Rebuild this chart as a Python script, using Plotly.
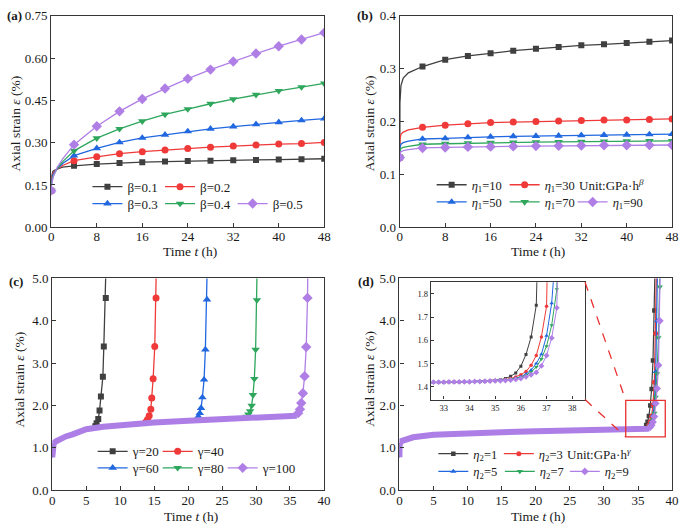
import plotly.graph_objects as go

W, H = 685, 531
FONT = "Liberation Serif, Times New Roman, Times, serif"
INK = "#1a1a1a"
AXC = "#363636"
RED_BOX = "#e8302f"
COLORS = ["#404040", "#f03a3a", "#2067e0", "#2ea65c", "#b07fe6"]
BAND = "#ad7fe6"
SYMBOLS = ["square", "circle", "triangle-up", "triangle-down", "diamond"]
MSIZE = [6, 7, 7.5, 7.5, 8]
MSIZE_D = [4.5, 5, 5.5, 5.5, 6]
MSIZE_IN = [3, 3.5, 4, 4, 4.5]

# ---------------- (a) beta ----------------
A_LABELS = ["β=0.1", "β=0.2", "β=0.3", "β=0.4", "β=0.5"]
A_T = [0, 4, 8, 12, 16, 20, 24, 28, 32, 36, 40, 44, 48]
A_B01 = [0.13, 0.218, 0.224, 0.228, 0.231, 0.233, 0.235, 0.236, 0.238, 0.239, 0.240, 0.241, 0.243]
A_B02 = [0.13, 0.236, 0.250, 0.261, 0.268, 0.274, 0.279, 0.284, 0.288, 0.292, 0.295, 0.297, 0.301]
A_B03 = [0.13, 0.254, 0.280, 0.301, 0.317, 0.328, 0.340, 0.349, 0.357, 0.365, 0.372, 0.379, 0.385]
A_B04 = [0.13, 0.271, 0.316, 0.349, 0.376, 0.400, 0.419, 0.438, 0.454, 0.470, 0.484, 0.497, 0.510]
A_B05 = [0.13, 0.293, 0.358, 0.411, 0.455, 0.492, 0.527, 0.559, 0.588, 0.616, 0.642, 0.666, 0.690]
A_EARLY_T = [0.02, 0.3, 1, 2]
A_EARLY_B01 = [0.180, 0.199, 0.206, 0.213]
A_EARLY_B02 = [0.168, 0.192, 0.206, 0.219]
A_EARLY_B03 = [0.158, 0.186, 0.207, 0.226]
A_EARLY_B04 = [0.150, 0.180, 0.208, 0.233]
A_EARLY_B05 = [0.145, 0.176, 0.211, 0.243]

# ---------------- (b) eta1 ----------------
B_LABELS = ["<i>η</i><sub>1</sub>=10", "<i>η</i><sub>1</sub>=30", "<i>η</i><sub>1</sub>=50",
            "<i>η</i><sub>1</sub>=70", "<i>η</i><sub>1</sub>=90"]
B_T = [0, 4, 8, 12, 16, 20, 24, 28, 32, 36, 40, 44, 48]
B_E10 = [0.132, 0.304, 0.317, 0.324, 0.329, 0.334, 0.3375, 0.341, 0.344, 0.346, 0.3485, 0.351, 0.353]
B_E30 = [0.132, 0.189, 0.193, 0.196, 0.198, 0.199, 0.200, 0.201, 0.202, 0.203, 0.203, 0.204, 0.205]
B_E50 = [0.132, 0.167, 0.168, 0.170, 0.171, 0.172, 0.1725, 0.173, 0.174, 0.1745, 0.175, 0.1755, 0.176]
B_E70 = [0.132, 0.157, 0.158, 0.159, 0.160, 0.1605, 0.161, 0.1615, 0.162, 0.1625, 0.163, 0.1632, 0.1636]
B_E90 = [0.132, 0.150, 0.151, 0.152, 0.1525, 0.153, 0.1535, 0.154, 0.1545, 0.155, 0.1552, 0.1554, 0.1556]
B_EARLY_T = [0.02, 0.2, 0.6, 1.5]
B_EARLY_E10 = [0.235, 0.268, 0.282, 0.292]
B_EARLY_E30 = [0.166, 0.176, 0.180, 0.184]
B_EARLY_E50 = [0.151, 0.157, 0.160, 0.163]
B_EARLY_E70 = [0.144, 0.149, 0.151, 0.153]
B_EARLY_E90 = [0.139, 0.143, 0.145, 0.147]

# ---------------- (c) gamma ----------------
C_LABELS = ["γ=20", "γ=40", "γ=60", "γ=80", "γ=100"]
C_BASE_T = [0, 0.02, 0.2, 0.5, 1, 2, 3, 5, 7.5, 10, 15, 20, 25, 30, 35, 36.0]
C_BASE_Y = [0.78, 1.05, 1.10, 1.15, 1.20, 1.27, 1.32, 1.44, 1.50, 1.54, 1.60, 1.64, 1.67, 1.70, 1.73, 1.76]
C_G20_T = [6.34, 6.53, 6.77, 6.96, 7.16, 7.45, 7.59, 7.88, 7.96]
C_G20_Y = [1.51, 1.58, 1.68, 1.88, 2.21, 2.68, 3.39, 4.54, 5.6]
C_G40_T = [13.78, 14.03, 14.27, 14.51, 14.65, 14.85, 15.09, 15.28, 15.36]
C_G40_Y = [1.61, 1.67, 1.76, 1.91, 2.18, 2.63, 3.39, 4.54, 5.6]
C_G60_T = [21.30, 21.52, 21.72, 21.91, 22.10, 22.35, 22.54, 22.78, 22.86]
C_G60_Y = [1.69, 1.74, 1.82, 1.94, 2.19, 2.61, 3.32, 4.50, 5.6]
C_G80_T = [28.62, 28.88, 29.12, 29.36, 29.55, 29.75, 29.94, 30.13, 30.20]
C_G80_Y = [1.74, 1.79, 1.87, 2.00, 2.25, 2.63, 3.32, 4.49, 5.6]
C_G100_T = [36.20, 36.47, 36.66, 36.90, 37.15, 37.39, 37.58, 37.66]
C_G100_Y = [1.82, 1.91, 2.06, 2.29, 2.69, 3.38, 4.54, 5.6]

# ---------------- (d) eta2 ----------------
D_LABELS = ["<i>η</i><sub>2</sub>=1", "<i>η</i><sub>2</sub>=3", "<i>η</i><sub>2</sub>=5",
            "<i>η</i><sub>2</sub>=7", "<i>η</i><sub>2</sub>=9"]
D_BASE_T = [0, 0.02, 0.3, 1, 2, 5, 10, 15, 20, 25, 30]
D_BASE_Y = [0.78, 1.08, 1.16, 1.21, 1.25, 1.31, 1.35, 1.37, 1.39, 1.40, 1.41]
D_PLAT_T = [32.6, 32.8, 33.0, 33.2, 33.4, 33.6, 33.8, 34.0, 34.2, 34.4, 34.6, 34.8, 35.0]
D_PLAT_Y = [1.420, 1.420, 1.420, 1.421, 1.421, 1.421, 1.422, 1.422, 1.423, 1.423, 1.424, 1.425, 1.426]
D_TAIL_T = [35.2, 35.4, 35.6, 35.8, 36.0, 36.2, 36.4, 36.6, 36.8, 37.0, 37.2, 37.4, 37.6, 37.8, 38.0, 38.2, 38.4]
D_E1 = [1.430, 1.436, 1.445, 1.460, 1.489, 1.539, 1.615, 1.751, 2.00, 2.39, 3.06, 4.24, 6.0]
D_E3 = [1.428, 1.431, 1.435, 1.442, 1.452, 1.466, 1.493, 1.535, 1.615, 1.747, 2.02, 2.55, 3.70, 6.0]
D_E5 = [1.427, 1.429, 1.432, 1.437, 1.443, 1.455, 1.472, 1.500, 1.540, 1.620, 1.760, 2.05, 2.80, 4.00, 6.5]
D_E7 = [1.427, 1.428, 1.431, 1.435, 1.440, 1.450, 1.464, 1.485, 1.520, 1.575, 1.665, 1.82, 2.20, 2.75, 3.60, 4.80, 6.5]
D_E9 = [1.426, 1.427, 1.429, 1.432, 1.436, 1.443, 1.452, 1.462, 1.490, 1.535, 1.610, 1.740, 2.05, 2.40, 2.95, 4.00, 6.5]


def px(x):
    return x / W


def py(y):
    return 1 - y / H


# panel geometry (pixels of the 685x531 canvas)
A_XDOM, A_YDOM = [px(49), px(326)], [py(226.7), py(9)]
B_XDOM, B_YDOM = [px(402.7), px(679)], [py(226.7), py(9)]
C_XDOM, C_YDOM = [px(50), px(325.7)], [py(497.3), py(279.3)]
D_XDOM, D_YDOM = [px(402.3), px(679)], [py(497.3), py(279.3)]
I_XDOM, I_YDOM = [px(434.3), px(590.7)], [py(404), py(283.3)]
D_XR, D_YR = [0, 40], [0, 5]
I_XR, I_YR = [32.5, 38.5], [1.345, 1.85]
BOX_X, BOX_Y = [33.2, 39.0], [1.26, 2.12]

fig = go.Figure()


def line_tr(x, y, c, xa, ya, w=1.3):
    fig.add_trace(go.Scatter(x=x, y=y, mode="lines", line=dict(color=c, width=w),
                             xaxis=xa, yaxis=ya, showlegend=False, hoverinfo="skip"))


def mark_tr(x, y, i, xa, ya, sizes=MSIZE):
    fig.add_trace(go.Scatter(x=x, y=y, mode="markers",
                             marker=dict(symbol=SYMBOLS[i], size=sizes[i], color=COLORS[i],
                                         line=dict(width=0)),
                             xaxis=xa, yaxis=ya, showlegend=False, hoverinfo="skip"))


def legend_tr(name, i, xa, ya, leg, lw, sizes=MSIZE):
    fig.add_trace(go.Scatter(x=[None], y=[None], mode="lines+markers", name=name,
                             line=dict(color=COLORS[i], width=1.3),
                             marker=dict(symbol=SYMBOLS[i], size=sizes[i], color=COLORS[i],
                                         line=dict(width=0)),
                             xaxis=xa, yaxis=ya, legend=leg, legendwidth=lw))


# ---- (a)
A_SERIES = [A_B01, A_B02, A_B03, A_B04, A_B05]
A_EARLY = [A_EARLY_B01, A_EARLY_B02, A_EARLY_B03, A_EARLY_B04, A_EARLY_B05]
for i in range(5):
    ys = A_SERIES[i]
    line_tr([A_T[0]] + A_EARLY_T + A_T[1:], [ys[0]] + A_EARLY[i] + ys[1:], COLORS[i], "x", "y")
    mark_tr(A_T, ys, i, "x", "y")

# ---- (b)
B_SERIES = [B_E10, B_E30, B_E50, B_E70, B_E90]
B_EARLY = [B_EARLY_E10, B_EARLY_E30, B_EARLY_E50, B_EARLY_E70, B_EARLY_E90]
for i in range(5):
    ys = B_SERIES[i]
    line_tr([B_T[0]] + B_EARLY_T + B_T[1:], [ys[0]] + B_EARLY[i] + ys[1:], COLORS[i], "x2", "y2")
    mark_tr(B_T, ys, i, "x2", "y2")

# ---- (c)
C_TAILS = [(C_G20_T, C_G20_Y), (C_G40_T, C_G40_Y), (C_G60_T, C_G60_Y),
           (C_G80_T, C_G80_Y), (C_G100_T, C_G100_Y)]
for i in range(5):
    tt, ty = C_TAILS[i]
    bx = [t for t in C_BASE_T if t < tt[0]]
    by = C_BASE_Y[:len(bx)]
    line_tr(bx + tt, by + ty, COLORS[i], "x3", "y3")
    if i < 4:
        mx = [t for t, v in zip(tt, ty) if v <= 5]
        my = [v for v in ty if v <= 5]
        mark_tr(mx, my, i, "x3", "y3")
# dense purple marker band along the plateau
line_tr(C_BASE_T, C_BASE_Y, BAND, "x3", "y3", w=6)
mark_tr([t for t, v in zip(C_G100_T, C_G100_Y) if v <= 5], [v for v in C_G100_Y if v <= 5], 4, "x3", "y3")

# ---- (d)
D_SERIES = [D_E1, D_E3, D_E5, D_E7, D_E9]
for i in range(5):
    ys = D_SERIES[i]
    tt = D_TAIL_T[:len(ys)]
    line_tr(D_BASE_T + D_PLAT_T + tt, D_BASE_Y + D_PLAT_Y + ys, COLORS[i], "x4", "y4", w=1.2)
    if i < 4:
        mark_tr([t for t, v in zip(tt, ys) if 1.5 < v <= 5], [v for v in ys if 1.5 < v <= 5],
                i, "x4", "y4", MSIZE_D)
band_tx = [t for t, v in zip(D_TAIL_T, D_E9) if v < 1.49]
line_tr(D_BASE_T + D_PLAT_T + band_tx, D_BASE_Y + D_PLAT_Y + D_E9[:len(band_tx)], BAND, "x4", "y4", w=6)
mark_tr([t for t, v in zip(D_TAIL_T, D_E9) if 1.49 <= v <= 5], [v for v in D_E9 if 1.49 <= v <= 5],
        4, "x4", "y4", MSIZE_D)

# inset of (d)
for i in range(5):
    ys = D_SERIES[i]
    tt = D_TAIL_T[:len(ys)]
    fig.add_trace(go.Scatter(x=D_BASE_T[-1:] + D_PLAT_T + tt, y=D_BASE_Y[-1:] + D_PLAT_Y + ys,
                             mode="lines+markers", line=dict(color=COLORS[i], width=1.0),
                             marker=dict(symbol=SYMBOLS[i], size=MSIZE_IN[i], color=COLORS[i],
                                         line=dict(width=0)),
                             xaxis="x5", yaxis="y5", showlegend=False, hoverinfo="skip"))

# ---- legends (two rows per panel); last item of each row gets room for its text
A_LW = [27.6, 50, 27.6, 27.6, 50]
B_LW = [28, 50, 28, 23, 50]
C_LW = [20, 50, 20, 20, 50]
D_LW = [20.5, 50, 21.5, 20, 50]
for i in range(5):
    legend_tr(A_LABELS[i], i, "x", "y", "legend" if i < 2 else "legend2", A_LW[i])
    legend_tr(B_LABELS[i], i, "x2", "y2", "legend3" if i < 2 else "legend4", B_LW[i])
    legend_tr(C_LABELS[i], i, "x3", "y3", "legend5" if i < 2 else "legend6", C_LW[i])
    legend_tr(D_LABELS[i], i, "x4", "y4", "legend7" if i < 2 else "legend8", D_LW[i], MSIZE_D)


def leg(x_line, y_row, fs=13):
    return dict(orientation="h", x=px(x_line - 5), xanchor="left", y=py(y_row), yanchor="middle",
                bgcolor="rgba(0,0,0,0)", borderwidth=0, itemwidth=30, tracegroupgap=0,
                font=dict(family=FONT, size=fs, color=INK))


def axis(dom, rng, dtick, anchor, fmt=None, fs=13, tlen=4, standoff=0):
    d = dict(domain=dom, range=rng, dtick=dtick, tick0=0, anchor=anchor, showline=True,
             linecolor=AXC, linewidth=1.3, mirror=True, ticks="inside", ticklen=tlen,
             tickwidth=1.2, tickcolor=AXC, showgrid=False, zeroline=False,
             tickfont=dict(family=FONT, size=fs, color=INK))
    if fmt:
        d["tickformat"] = fmt
    if standoff:
        d["ticklabelstandoff"] = standoff
    return d


def to_paper(v, dom, rng):
    return dom[0] + (v - rng[0]) / (rng[1] - rng[0]) * (dom[1] - dom[0])


box_left = to_paper(BOX_X[0], D_XDOM, D_XR)
box_top = to_paper(BOX_Y[1], D_YDOM, D_YR)
box_bot = to_paper(BOX_Y[0], D_YDOM, D_YR)

shapes = [
    dict(type="rect", xref="x4", yref="y4", x0=BOX_X[0], x1=BOX_X[1], y0=BOX_Y[0], y1=BOX_Y[1],
         line=dict(color=RED_BOX, width=1.3)),
    dict(type="line", xref="paper", yref="paper", x0=I_XDOM[1], y0=I_YDOM[1], x1=box_left, y1=box_top,
         line=dict(color=RED_BOX, width=1.3, dash="dash")),
    dict(type="line", xref="paper", yref="paper", x0=I_XDOM[1], y0=I_YDOM[0], x1=box_left, y1=box_bot,
         line=dict(color=RED_BOX, width=1.3, dash="dash")),
]


def ann(text, x, y, size=13, angle=0, xanchor="center"):
    return dict(text=text, x=px(x), y=py(y), xref="paper", yref="paper", showarrow=False,
                xanchor=xanchor, yanchor="middle", textangle=angle,
                font=dict(family=FONT, size=size, color=INK))


YT = "Axial strain <i>ε</i> (%)"
XT = "Time <i>t</i> (h)"
annotations = [
    ann("<b>(a)</b>", 2, 9, xanchor="left"),
    ann("<b>(b)</b>", 357, 9, xanchor="left"),
    ann("<b>(c)</b>", 4, 282.7, xanchor="left"),
    ann("<b>(d)</b>", 358, 282, xanchor="left"),
    ann(YT, 13, 120, 13.5, -90), ann(YT, 372, 120, 13.5, -90),
    ann(YT, 16.5, 383, 13.5, -90), ann(YT, 372, 383, 13.5, -90),
    ann(XT, 190, 252, 13.5), ann(XT, 543, 252, 13.5),
    ann(XT, 190.5, 524, 13.5), ann(XT, 543, 524, 13.5),
    ann("Unit:GPa·h<sup><i>β</i></sup>", 582.5, 183.3, xanchor="left"),
    ann("Unit:GPa·h<sup><i>γ</i></sup>", 570, 460, xanchor="left"),
]

fig.update_layout(
    width=W, height=H, margin=dict(l=0, r=0, t=0, b=0),
    paper_bgcolor="white", plot_bgcolor="white", showlegend=True,
    font=dict(family=FONT, size=13, color=INK),
    xaxis=axis(A_XDOM, [0, 48], 8, "y", standoff=-3),
    yaxis=axis(A_YDOM, [0, 0.75], 0.15, "x", ".2f"),
    xaxis2=axis(B_XDOM, [0, 48], 8, "y2", standoff=-3),
    yaxis2=axis(B_YDOM, [0, 0.4], 0.1, "x2", ".1f"),
    xaxis3=axis(C_XDOM, [0, 40], 5, "y3", standoff=-2),
    yaxis3=axis(C_YDOM, [0, 5], 1, "x3", ".1f"),
    xaxis4=axis(D_XDOM, D_XR, 5, "y4", standoff=-2),
    yaxis4=axis(D_YDOM, D_YR, 1, "x4", ".1f"),
    xaxis5=axis(I_XDOM, I_XR, 1, "y5", None, 8.5, 3),
    yaxis5=axis(I_YDOM, I_YR, 0.1, "x5", ".1f", 8.5, 3),
    legend=leg(90.7, 185), legend2=leg(90.7, 202.3),
    legend3=leg(440, 183.3, 12.5), legend4=leg(440, 201, 12.5),
    legend5=leg(96, 457.3), legend6=leg(96, 474.3),
    legend7=leg(441.7, 460, 12.5), legend8=leg(441.7, 478.3, 12.5),
    shapes=shapes, annotations=annotations,
)

fig.write_html("out.html", config={"displayModeBar": False},
               post_script="document.body.style.margin='0';")
